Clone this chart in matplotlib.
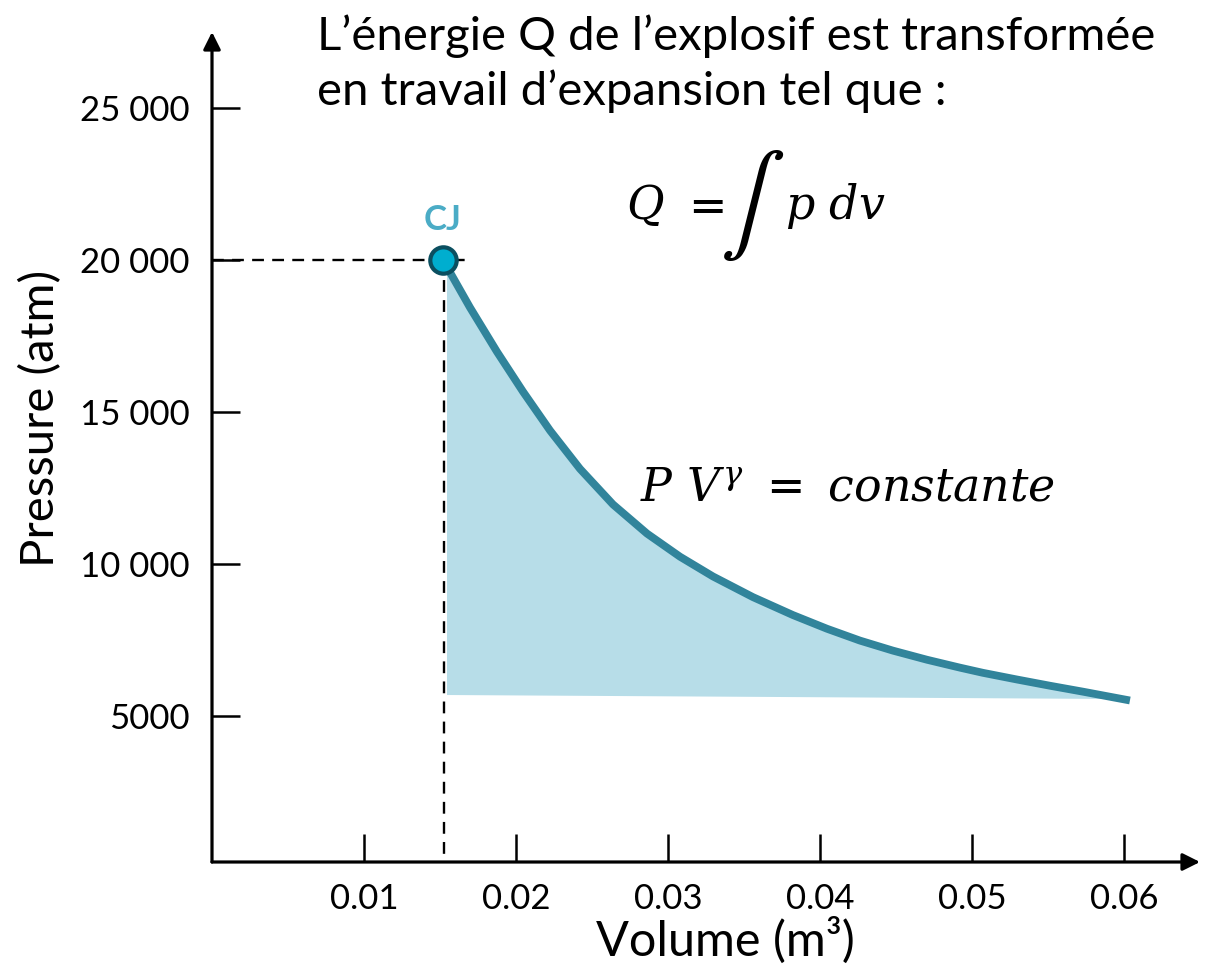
import numpy as np
import matplotlib
matplotlib.use('Agg')
import matplotlib.pyplot as plt

plt.rcParams['font.family'] = ['Lato', 'DejaVu Sans']
plt.rcParams['mathtext.fontset'] = 'dejavuserif'

# isentropic expansion curve (volume in m3, pressure in atm)
vol = [0.01520, 0.01697, 0.01875, 0.02046, 0.02224, 0.02421, 0.02638, 0.02862,
       0.03079, 0.03296, 0.03559, 0.03822, 0.04046, 0.04263, 0.04480, 0.04704,
       0.04921, 0.05072, 0.05296, 0.05513, 0.05730, 0.06039]
pres = [20000, 18440, 16980, 15670, 14390, 13130, 11960, 11000,
        10240, 9590, 8910, 8320, 7870, 7480, 7150, 6850,
        6590, 6420, 6200, 5995, 5800, 5510]

# CJ point
cj_vol = 0.01520
cj_pres = 20000

# shaded area: left edge and slanted bottom edge
fill_left_vol = 0.01546
fill_left_top = 19780
fill_base_vol = [0.01546, 0.0592]
fill_base_pres = [5690, 5560]

xticks = [0.01, 0.02, 0.03, 0.04, 0.05, 0.06]
xticklabels = ['0.01', '0.02', '0.03', '0.04', '0.05', '0.06']
yticks = [5000, 10000, 15000, 20000, 25000]
yticklabels = ['5000', '10 000', '15 000', '20 000', '25 000']

W, H = 1205, 969


def px(x, y):
    # pixel position -> figure fraction
    return x / W, 1 - y / H


fig = plt.figure(figsize=(W / 100, H / 100), dpi=100)
ax = fig.add_axes([212/W, 107/H, 988/W, 830/H])
ax.set_xlim(0, 0.0650)
ax.set_ylim(197, 27500)

for s in ax.spines.values():
    s.set_visible(False)

# axes drawn as arrows
arrow = dict(arrowstyle='-|>', lw=2.3, color='black', mutation_scale=26,
             shrinkA=0, shrinkB=0)
ax.annotate('', xy=(1, 0), xytext=(0, 0), xycoords='axes fraction', arrowprops=arrow)
ax.annotate('', xy=(0, 1), xytext=(0, 0), xycoords='axes fraction', arrowprops=arrow)

ax.set_xticks(xticks)
ax.set_xticklabels(xticklabels)
ax.set_yticks(yticks)
ax.set_yticklabels(yticklabels)
ax.tick_params(axis='x', direction='in', length=20, width=1.8, pad=15, labelsize=25)
ax.tick_params(axis='y', direction='in', length=20, width=1.8, pad=16, labelsize=25)

# shaded work area
poly_v = [fill_left_vol] + vol[1:-1] + [fill_base_vol[1], fill_base_vol[0]]
poly_p = [fill_left_top] + pres[1:-1] + [fill_base_pres[1], fill_base_pres[0]]
ax.fill(poly_v, poly_p, color='#b7dde8', lw=0, zorder=1)

# expansion curve
ax.plot(vol, pres, color='#31849b', lw=5.6, solid_capstyle='butt',
        solid_joinstyle='round', zorder=3)

# dashed guides to the CJ point
ax.plot([0, 0.0168], [cj_pres, cj_pres], color='black', lw=1.7,
        linestyle=(0, (5, 3.5)), zorder=2)
ax.plot([cj_vol + 0.00006, cj_vol + 0.00006], [cj_pres, 197], color='black', lw=1.7,
        linestyle=(0, (5, 3.5)), zorder=2)

ax.plot([cj_vol], [cj_pres], 'o', ms=19, mfc='#00aecf', mec='#0b4f60', mew=3, zorder=5)
ax.text(cj_vol, cj_pres + 1300, 'CJ', color='#4bacc6', fontsize=25,
        fontweight='bold', ha='center', va='center')

# annotations
fig.text(*px(317, 14), 'L’énergie Q de l’explosif est transformée\nen travail d’expansion tel que :',
         fontsize=34, ha='left', va='top', linespacing=1.33)

fig.text(*px(626, 219), r'$Q$', fontsize=33, ha='left', va='baseline')
fig.text(*px(680, 219), r'$=$', fontsize=33, ha='left', va='baseline')
fig.text(*px(752, 206), r'$\int$', fontsize=70, ha='center', va='center',
         math_fontfamily='stix')
fig.text(*px(785, 219), r'$p\ dv$', fontsize=33, ha='left', va='baseline')

fig.text(*px(640, 500), r'$P\ V^{\gamma}\ =\ constante$', fontsize=33, ha='left', va='baseline')

fig.text(*px(41, 418), 'Pressure (atm)', fontsize=34, rotation=90,
         ha='center', va='center')
fig.text(*px(725, 940), 'Volume (m³)', fontsize=35, ha='center', va='center')

fig.savefig('out.png', dpi=100)
